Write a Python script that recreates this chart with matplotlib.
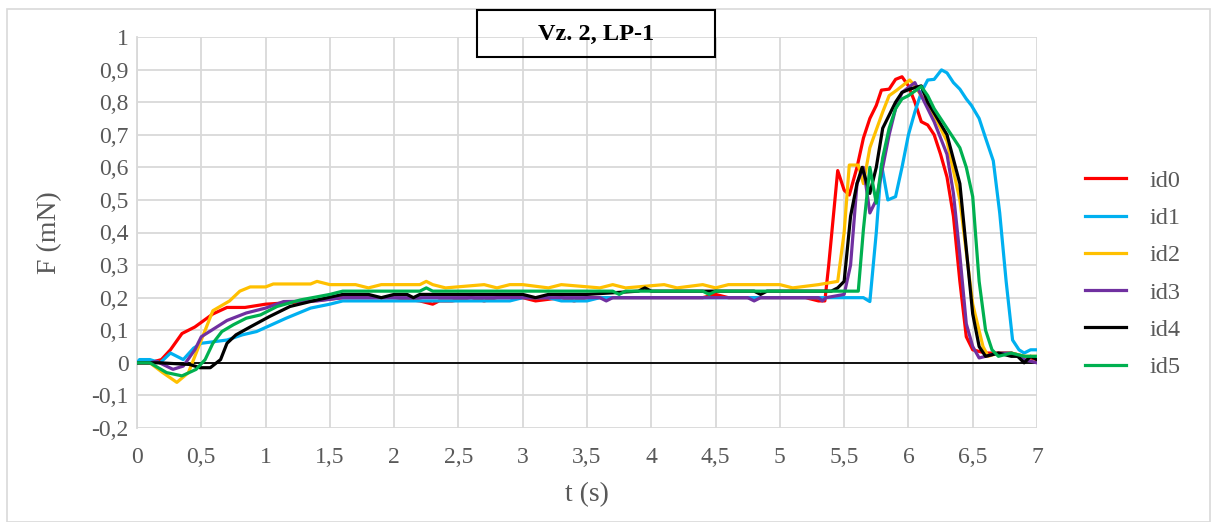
"""Force vs time curves for six ids (Vz. 2, LP-1), Excel-style line chart."""

import matplotlib.pyplot as plt
from matplotlib.patches import Rectangle
from matplotlib.ticker import FuncFormatter, MultipleLocator

plt.rcParams["font.family"] = ["Liberation Serif", "DejaVu Serif"]

TITLE = "Vz. 2, LP-1"
XLABEL = "t (s)"
YLABEL = "F (mN)"
LABELS = ["id0", "id1", "id2", "id3", "id4", "id5"]
COLORS = ["#FF0000", "#00B0F0", "#FFC000", "#7030A0", "#000000", "#00B050"]

# id0 (red)
t0 = [0, 0.1, 0.19, 0.26, 0.35, 0.45, 0.59, 0.7, 0.84, 1.0, 1.2, 1.37, 1.6, 2.0, 2.2,
      2.3, 2.35, 2.45, 2.6, 2.7, 2.8, 3.0, 3.1, 3.3, 3.4, 3.5, 3.6, 3.8, 4.0, 4.4, 4.5,
      4.6, 4.9, 5.0, 5.2, 5.3, 5.35, 5.38, 5.45, 5.5, 5.54, 5.6, 5.65, 5.7, 5.75, 5.79,
      5.85, 5.9, 5.95, 6.0, 6.05, 6.1, 6.15, 6.2, 6.25, 6.3, 6.35, 6.4, 6.45, 6.5, 6.55,
      6.6, 6.7, 6.8, 6.9, 7.0]
f0 = [0, 0.0, 0.01, 0.04, 0.09, 0.11, 0.15, 0.17, 0.17, 0.18, 0.185, 0.19, 0.2, 0.2, 0.19,
      0.18, 0.19, 0.19, 0.2, 0.19, 0.2, 0.2, 0.19, 0.2, 0.19, 0.2, 0.2, 0.2, 0.2, 0.2, 0.21,
      0.2, 0.2, 0.2, 0.2, 0.19, 0.19, 0.3, 0.59, 0.53, 0.515, 0.6, 0.69, 0.75, 0.79, 0.837,
      0.84, 0.87, 0.878, 0.85, 0.8, 0.74, 0.73, 0.7, 0.64, 0.57, 0.45, 0.25, 0.08, 0.04, 0.035,
      0.03, 0.03, 0.03, 0.02, 0.01]

# id1 (blue)
t1 = [0, 0.02, 0.1, 0.18, 0.26, 0.36, 0.44, 0.5, 0.7, 0.82, 0.93, 1.16, 1.35, 1.5, 1.6,
      2.0, 2.5, 2.9, 3.0, 3.2, 3.3, 3.5, 3.6, 3.9, 4.0, 4.5, 5.0, 5.5, 5.65, 5.7, 5.75,
      5.79, 5.84, 5.9, 5.95, 6.0, 6.05, 6.1, 6.15, 6.2, 6.257, 6.3, 6.35, 6.4, 6.45, 6.49,
      6.55, 6.6, 6.66, 6.71, 6.76, 6.81, 6.86, 6.9, 6.95, 7.0]
f1 = [0, 0.01, 0.01, 0.0, 0.03, 0.01, 0.045, 0.06, 0.07, 0.086, 0.096, 0.137, 0.168, 0.18, 0.19,
      0.19, 0.19, 0.19, 0.2, 0.2, 0.19, 0.19, 0.2, 0.2, 0.2, 0.2, 0.2, 0.2, 0.2, 0.188, 0.4,
      0.61, 0.5, 0.51, 0.6, 0.7, 0.77, 0.83, 0.868, 0.87, 0.899, 0.89, 0.86, 0.84, 0.81, 0.79,
      0.75, 0.69, 0.62, 0.46, 0.25, 0.07, 0.04, 0.03, 0.04, 0.04]

# id2 (yellow)
t2 = [0, 0.1, 0.2, 0.31, 0.4, 0.49, 0.59, 0.72, 0.8, 0.88, 1.0, 1.06, 1.35, 1.4, 1.5,
      1.7, 1.8, 1.9, 2.2, 2.25, 2.3, 2.4, 2.7, 2.8, 2.9, 3.0, 3.2, 3.3, 3.6, 3.7, 3.8,
      4.1, 4.2, 4.4, 4.5, 4.6, 5.0, 5.1, 5.3, 5.45, 5.5, 5.54, 5.61, 5.65, 5.7, 5.8, 5.85,
      5.91, 6.01, 6.05, 6.1, 6.2, 6.3, 6.4, 6.5, 6.58, 6.62, 6.7, 6.8, 6.9, 7.0]
f2 = [0, 0.0, -0.03, -0.06, -0.03, 0.06, 0.16, 0.19, 0.22, 0.233, 0.233, 0.242, 0.242, 0.25, 0.24,
      0.24, 0.23, 0.24, 0.24, 0.25, 0.24, 0.23, 0.24, 0.23, 0.24, 0.24, 0.23, 0.24, 0.23, 0.24, 0.23,
      0.24, 0.23, 0.24, 0.23, 0.24, 0.24, 0.23, 0.24, 0.25, 0.4, 0.607, 0.607, 0.55, 0.66, 0.77, 0.82,
      0.837, 0.868, 0.85, 0.82, 0.76, 0.68, 0.5, 0.18, 0.05, 0.02, 0.03, 0.03, 0.02, 0.02]

# id3 (purple)
t3 = [0, 0.1, 0.15, 0.28, 0.36, 0.45, 0.5, 0.58, 0.7, 0.85, 1.0, 1.14, 1.4, 1.6, 2.0,
      3.0, 3.6, 3.65, 3.7, 4.0, 4.5, 4.75, 4.8, 4.85, 5.0, 5.3, 5.33, 5.36, 5.5, 5.55,
      5.6, 5.65, 5.7, 5.75, 5.8, 5.85, 5.9, 5.95, 6.05, 6.1, 6.2, 6.3, 6.35, 6.4, 6.45,
      6.5, 6.55, 6.6, 6.7, 6.8, 6.9, 7.0]
f3 = [0, 0.0, 0.005, -0.02, -0.01, 0.04, 0.08, 0.1, 0.13, 0.153, 0.168, 0.188, 0.19, 0.2, 0.2,
      0.2, 0.2, 0.19, 0.2, 0.2, 0.2, 0.2, 0.19, 0.2, 0.2, 0.2, 0.19, 0.2, 0.21, 0.3,
      0.55, 0.6, 0.46, 0.5, 0.6, 0.7, 0.78, 0.83, 0.86, 0.82, 0.74, 0.64, 0.52, 0.33, 0.12,
      0.05, 0.015, 0.02, 0.03, 0.03, 0.01, 0.0]

# id4 (black)
t4 = [0, 0.18, 0.41, 0.49, 0.57, 0.65, 0.7, 0.77, 0.88, 1.03, 1.19, 1.4, 1.6, 1.8, 1.9,
      2.0, 2.1, 2.15, 2.2, 2.5, 3.0, 3.1, 3.2, 3.5, 3.9, 3.95, 4.0, 4.8, 4.85, 4.9, 5.2,
      5.4, 5.45, 5.5, 5.55, 5.6, 5.64, 5.7, 5.75, 5.8, 5.85, 5.9, 5.95, 6.01, 6.1, 6.15,
      6.3, 6.4, 6.45, 6.5, 6.55, 6.6, 6.7, 6.8, 6.85, 6.9, 6.95, 7.0]
f4 = [0, 0.0, -0.005, -0.015, -0.015, 0.01, 0.06, 0.086, 0.11, 0.142, 0.173, 0.193, 0.21, 0.21, 0.2,
      0.21, 0.21, 0.2, 0.21, 0.21, 0.21, 0.2, 0.21, 0.21, 0.22, 0.23, 0.22, 0.22, 0.21, 0.22, 0.22,
      0.22, 0.23, 0.25, 0.45, 0.55, 0.6, 0.52, 0.6, 0.72, 0.76, 0.8, 0.83, 0.84, 0.85, 0.8,
      0.7, 0.55, 0.35, 0.15, 0.05, 0.02, 0.03, 0.02, 0.02, 0.0, 0.02, 0.01]

# id5 (green)
t5 = [0, 0.1, 0.23, 0.35, 0.46, 0.53, 0.59, 0.66, 0.75, 0.85, 0.96, 1.09, 1.27, 1.5, 1.6,
      2.0, 2.2, 2.25, 2.3, 2.5, 3.0, 3.5, 3.7, 3.75, 3.8, 4.0, 4.4, 4.45, 4.5, 4.8, 5.0,
      5.5, 5.61, 5.65, 5.7, 5.75, 5.8, 5.85, 5.9, 5.95, 6.0, 6.1, 6.15, 6.2, 6.3, 6.4,
      6.45, 6.5, 6.55, 6.6, 6.65, 6.7, 6.8, 6.9, 7.0]
f5 = [0, 0.0, -0.03, -0.04, -0.02, 0.01, 0.06, 0.096, 0.117, 0.137, 0.147, 0.173, 0.193, 0.21, 0.22,
      0.22, 0.22, 0.23, 0.22, 0.22, 0.22, 0.22, 0.22, 0.21, 0.22, 0.22, 0.22, 0.21, 0.22, 0.22, 0.22,
      0.22, 0.22, 0.41, 0.6, 0.49, 0.63, 0.72, 0.78, 0.81, 0.82, 0.848, 0.82, 0.78, 0.72, 0.66,
      0.6, 0.51, 0.25, 0.1, 0.04, 0.02, 0.03, 0.02, 0.02]

SERIES = [(t0, f0), (t1, f1), (t2, f2), (t3, f3), (t4, f4), (t5, f5)]

W, H = 1212, 522
fig = plt.figure(figsize=(W / 100, H / 100), dpi=100)
ax = fig.add_axes([137 / W, 1 - 428 / H, 900 / W, 391 / H])

for (t, f), lab, col in zip(SERIES, LABELS, COLORS):
    ax.plot(t, f, color=col, lw=2.3, label=lab, solid_joinstyle="round", zorder=3)

ax.axhline(0, color="black", lw=1.3, zorder=2)
ax.set_xlim(0, 7)
ax.set_ylim(-0.2, 1.0)
ax.xaxis.set_major_locator(MultipleLocator(0.5))
ax.yaxis.set_major_locator(MultipleLocator(0.1))
comma = FuncFormatter(lambda v, _: f"{v:g}".replace(".", ","))
ax.xaxis.set_major_formatter(comma)
ax.yaxis.set_major_formatter(comma)
ax.grid(True, color="#d9d9d9", lw=1.3, zorder=0)
for side in ("top", "right", "bottom"):
    ax.spines[side].set_visible(False)
ax.spines["left"].set_color("#d9d9d9")
ax.spines["left"].set_linewidth(1.3)
ax.tick_params(length=0, labelsize=17, colors="#595959")
ax.tick_params(axis="x", pad=14)
ax.tick_params(axis="y", pad=6)
ax.set_xlabel(XLABEL, fontsize=20, color="#595959", labelpad=10)
ax.set_ylabel(YLABEL, fontsize=20, color="#595959", labelpad=21)

# title box
fig.patches.append(Rectangle((477 / W, 1 - 57 / H), 238 / W, 47 / H, transform=fig.transFigure,
                             fill=False, edgecolor="black", lw=1.5, zorder=5))
fig.text(596 / W, 1 - 34 / H, TITLE, ha="center", va="center", fontsize=17.5,
         fontweight="bold", color="black")

# outer chart border
fig.patches.append(Rectangle((7 / W, 0.0), 1203 / W, 1 - 9 / H, transform=fig.transFigure,
                             fill=False, edgecolor="#d9d9d9", lw=1.2))

leg = fig.legend(loc="center left", bbox_to_anchor=(1063 / W, 1 - 274 / H), frameon=False,
                 fontsize=17.5, handlelength=1.7, handletextpad=0.95, labelspacing=0.63)
for txt in leg.get_texts():
    txt.set_color("#595959")

fig.savefig("out.png", dpi=100)
